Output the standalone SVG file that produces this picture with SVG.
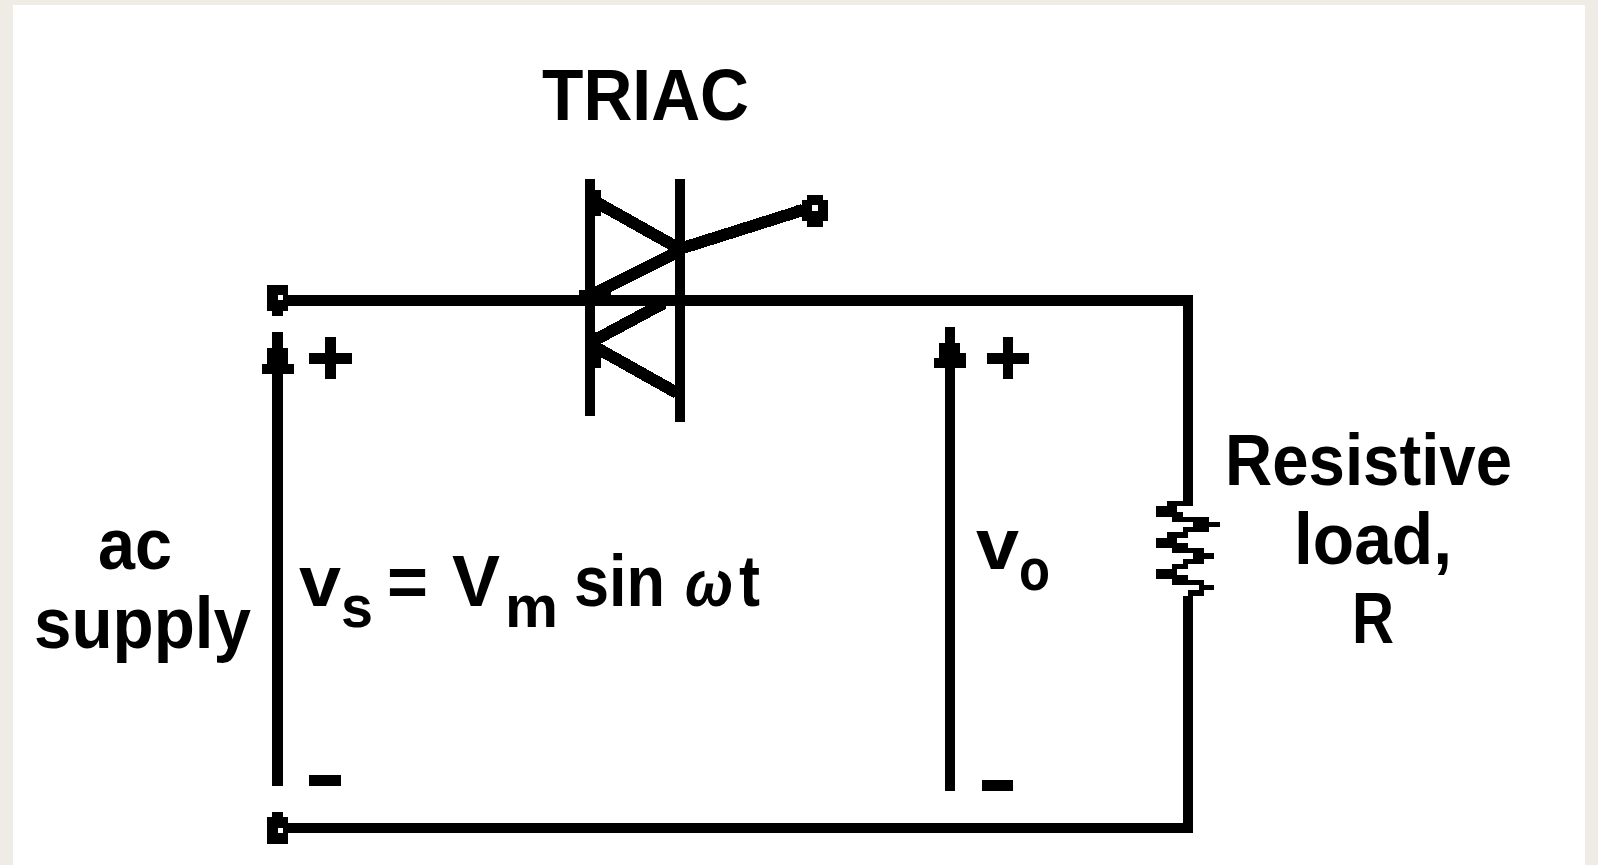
<svg xmlns="http://www.w3.org/2000/svg" width="1598" height="865" viewBox="0 0 1598 865">
<style>
.k{fill:#000;shape-rendering:crispEdges}
.d{fill:none;stroke:#000;stroke-width:12;stroke-linecap:butt;shape-rendering:crispEdges}
text{font-family:"Liberation Sans",Arial,sans-serif;font-weight:700;fill:#000}
.t{font-size:72px}
.s{font-size:60px}
</style>
<rect width="1598" height="865" fill="#eeece4"/>
<rect x="13" y="5" width="1572" height="860" fill="#fff"/>
<g id="connectors">
<path class="k" d="M288 295H1193V306H288ZM288 823H1193V833H288ZM1183 295H1193V505H1183ZM1183 596H1193V833H1183Z"/>
<path id="arrow-vs" class="k" d="M272 332H283V348H288V364H294V374H283V786H272V374H262V364H267V348H272Z"/>
<path id="arrow-vo" class="k" d="M945 327H955V343H960V353H966V368H955V791H945V368H934V358H939V343H945Z"/>
</g>
<g id="terminal-top"><path class="k" fill-rule="evenodd" d="M267 285H288V311H283V316H272V311H267ZM278 295V300H283V295Z"/></g>
<g id="terminal-bottom"><path class="k" fill-rule="evenodd" d="M272 812H283V817H288V844H267V817H272ZM278 828V833H283V828Z"/></g>
<g id="triac">
<path class="k" d="M585 179H595V416H585ZM675 179H685V422H675ZM595 190H601V216H595ZM579 290H611V295H579ZM595 332H601V368H595Z"/>
<path class="d" d="M596 202L678 248"/>
<path class="d" d="M673 251L803 210"/>
<path class="d" d="M595 293L680 251"/>
<path class="d" d="M664 303L595 340"/>
<path class="d" d="M595 347L677 393"/>
<path class="k" fill-rule="evenodd" d="M807 195H823V200H828V221H823V227H807V221H802V217H796V205H802V200H807ZM812 205V211H818V205Z"/>
</g>
<g id="resistor">
<path class="k" transform="translate(1120 460) scale(.33333)" d="M140 123H218V138H140ZM108 138H170V170H108ZM156 155H188V170H156ZM156 170H268V185H156ZM220 185H300V200H220ZM190 200H268V215H190ZM140 215H204V233H140ZM108 233H172V263H108ZM156 248H204V265H156ZM156 265H252V280H156ZM220 280H282V296H220ZM190 296H252V311H190ZM156 311H204V327H156ZM108 327H170V358H108ZM156 345H204V360H156ZM156 360H252V375H156ZM236 375H282V390H236ZM204 390H252V408H204Z"/>
</g>
<g id="signs">
<path class="k" d="M325 337H336V353H352V364H336V379H325V364H309V353H325ZM1003 337H1013V353H1029V364H1013V379H1003V364H987V353H1003ZM309 775H341V786H309ZM982 780H1013V791H982Z"/>
</g>
<g id="labels">
<text class="t" x="542" y="120" textLength="207" lengthAdjust="spacingAndGlyphs">TRIAC</text>
<text class="t" x="1225" y="485" textLength="287" lengthAdjust="spacingAndGlyphs">Resistive</text>
<text class="t" x="1294" y="564" textLength="158" lengthAdjust="spacingAndGlyphs">load,</text>
<text class="t" x="1352" y="643" textLength="42" lengthAdjust="spacingAndGlyphs">R</text>
<text class="t" x="98" y="569" textLength="74" lengthAdjust="spacingAndGlyphs">ac</text>
<text class="t" x="34" y="648" textLength="217" lengthAdjust="spacingAndGlyphs">supply</text>
<text class="t" x="299" y="606" textLength="42" lengthAdjust="spacingAndGlyphs">v</text>
<text class="s" x="341" y="627" textLength="32" lengthAdjust="spacingAndGlyphs">s</text>
<text class="t" x="387" y="606" textLength="41" lengthAdjust="spacingAndGlyphs">=</text>
<text class="t" x="452" y="606" textLength="48" lengthAdjust="spacingAndGlyphs">V</text>
<text class="s" x="505" y="627" textLength="53" lengthAdjust="spacingAndGlyphs">m</text>
<text class="t" x="574" y="606" textLength="91" lengthAdjust="spacingAndGlyphs">sin</text>
<text x="685" y="606" font-size="64" font-style="italic" textLength="48" lengthAdjust="spacingAndGlyphs">ω</text>
<text class="t" x="739" y="606" textLength="21" lengthAdjust="spacingAndGlyphs">t</text>
<text class="t" x="976" y="569" textLength="43" lengthAdjust="spacingAndGlyphs">v</text>
<text class="s" x="1019" y="590" textLength="31" lengthAdjust="spacingAndGlyphs">o</text>
</g>
</svg>
